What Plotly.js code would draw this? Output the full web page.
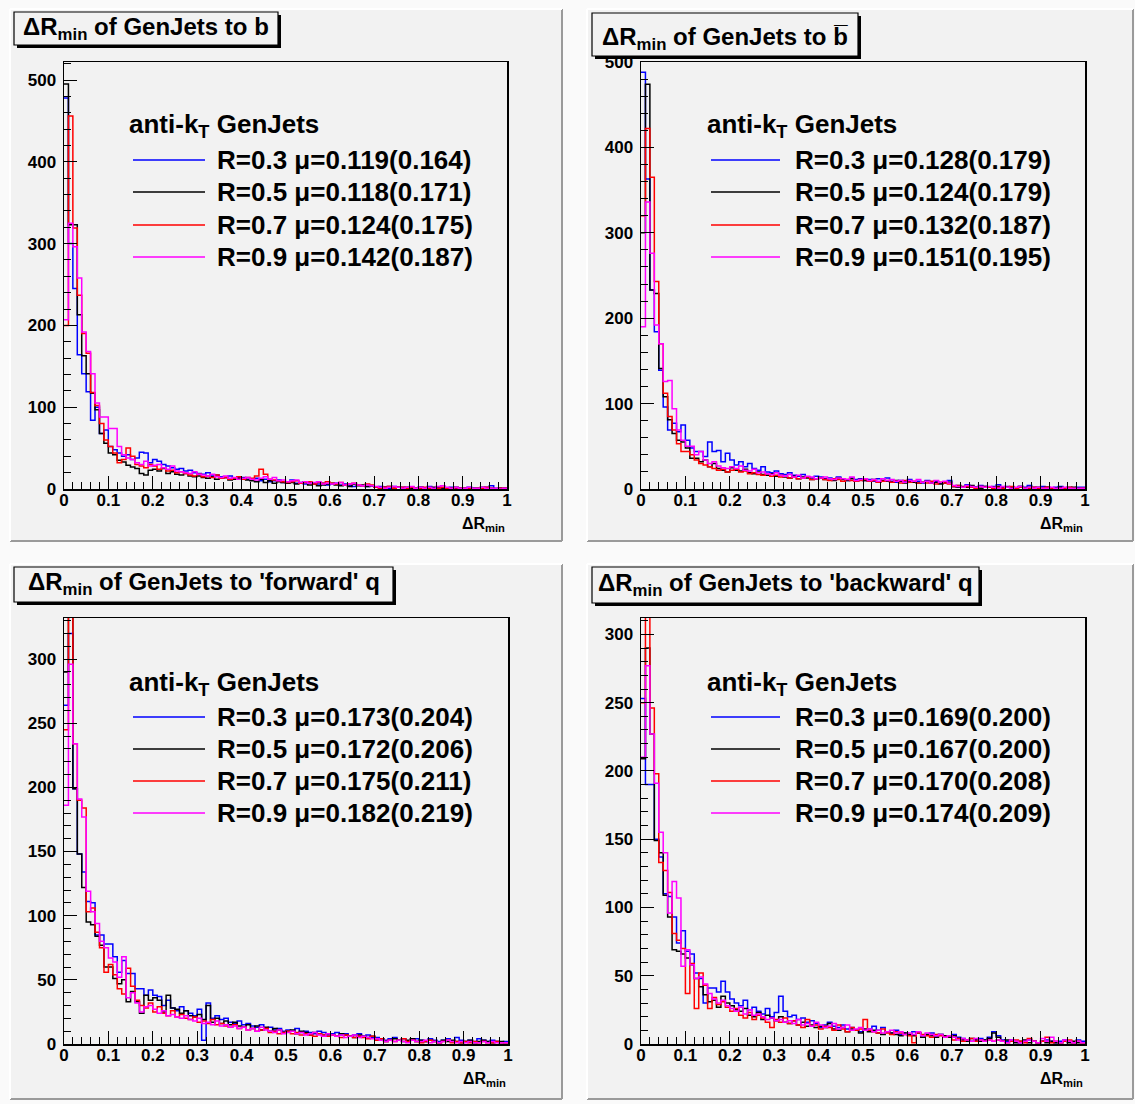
<!DOCTYPE html>
<html>
<head>
<meta charset="utf-8">
<script src="https://cdn.plot.ly/plotly-3.0.1.min.js"></script>
<style>html,body{margin:0;padding:0;background:#fafafa;}#chart{width:1135px;height:1104px;}</style>
</head>
<body>
<div id="chart"></div>
<script>
// ---------- data (100 bins, 0..1, width 0.01) ----------
const binLow = 0, binHigh = 1, nBins = 100;
const seriesNames = ['R=0.3', 'R=0.5', 'R=0.7', 'R=0.9'];
const seriesColors = ['#0000ff', '#000000', '#ff0000', '#ff00ff'];
const panelTitles = ['ΔR<sub>min</sub> of GenJets to b', 'ΔR<sub>min</sub> of GenJets to b\u0305',
  "ΔR<sub>min</sub> of GenJets to 'forward' q", "ΔR<sub>min</sub> of GenJets to 'backward' q"];
const legendHeader = 'anti-k<sub>T</sub> GenJets';
const axisTitle = 'ΔR<sub>min</sub>';
const muB     = ['0.119(0.164)', '0.118(0.171)', '0.124(0.175)', '0.142(0.187)'];
const muBbar  = ['0.128(0.179)', '0.124(0.179)', '0.132(0.187)', '0.151(0.195)'];
const muFwd   = ['0.173(0.204)', '0.172(0.206)', '0.175(0.211)', '0.182(0.219)'];
const muBwd   = ['0.169(0.200)', '0.167(0.200)', '0.170(0.208)', '0.174(0.209)'];
const yMax = [522, 500, 332, 312];
const yMajor = [100, 100, 50, 50];
const yMinor = [20, 20, 10, 10];

// panel b
const b_R03 = [478,300,245,164,141,119,84,100,68,72, 52,48,44,40,42,36,38,45,44,32,
  36,34,30,28,26,24,25,22,23,20, 19,18,20,16,17,15,14,16,13,14, 14,12,11,13,10,12,9,10,11,8,
  8,11,7,8,6,8,7,6,7,5, 6,7,5,6,4,3,5,4,3,4,
  2,3,2,1,3,2,2,1,2,1, 2,1,3,1,2,1,1,2,1,1, 1,2,1,1,0,2,4,1,1,1];
const b_R05 = [495,323,323,213,163,141,117,97,68,56, 44,42,35,33,29,27,25,19,17,23,
  24,22,25,19,21,18,17,19,16,15, 16,14,13,15,12,13,14,11,12,13, 13,11,10,9,12,8,10,7,9,8,
  7,8,6,7,9,5,6,4,5,6, 7,5,4,5,3,6,4,5,3,4,
  2,1,2,3,1,2,1,2,1,1, 2,1,1,2,1,0,1,1,2,1, 1,0,1,1,2,1,1,0,1,1];
const b_R07 = [200,456,319,237,190,166,118,102,80,60, 52,44,32,36,50,40,30,28,26,30,
  28,24,26,22,23,20,21,19,17,16, 18,15,16,14,17,13,14,12,13,15, 12,14,13,16,24,18,12,11,10,9,
  8,9,10,7,8,9,6,8,7,9, 7,6,8,5,6,7,5,4,6,5,
  2,1,2,3,1,2,2,1,2,1, 1,2,1,0,1,2,1,1,0,1, 1,1,0,1,1,2,1,0,1,1];
const b_R09 = [207,325,296,258,192,168,141,105,88,88, 74,74,52,42,38,36,32,30,34,28,
  29,30,26,24,28,22,21,20,19,21, 18,17,16,18,15,14,16,13,14,12, 13,14,12,11,13,15,12,14,10,11,
  9,10,11,8,9,7,8,9,6,7, 6,7,8,5,6,7,5,4,5,4,
  3,2,1,2,3,2,1,2,3,1, 2,1,2,1,3,4,2,1,2,1, 1,2,1,1,2,1,1,1,0,1];
// panel b-bar
const bb_R03 = [488,363,233,184,139,96,69,77,67,75, 57,48,44,44,38,55,44,45,32,42,
  34,28,32,26,30,24,22,26,20,19, 21,18,17,19,16,15,17,14,13,15, 14,12,13,11,14,12,10,13,11,12,
  10,11,9,12,10,13,9,8,10,9, 11,8,9,7,10,8,9,7,8,10,
  3,4,2,5,3,2,4,3,2,3, 5,2,3,2,1,3,2,4,2,1, 3,2,1,2,3,1,2,1,2,2];
const bb_R05 = [300,474,233,229,141,108,81,65,57,55, 48,36,36,32,34,26,30,24,22,20,
  25,22,21,23,19,18,20,17,16,18, 15,16,14,13,15,12,14,13,11,12, 13,11,12,10,13,11,10,12,9,11,
  10,9,11,8,10,9,8,10,9,7, 9,8,7,8,9,7,8,6,7,8,
  3,2,3,2,4,2,1,3,2,2, 3,1,2,2,1,3,1,2,1,2, 1,2,1,1,2,1,1,2,1,1];
const bb_R07 = [320,422,365,243,170,112,85,69,53,44, 44,40,34,30,28,26,24,22,23,20,
  22,23,20,21,18,19,17,16,18,15, 16,14,15,13,14,12,13,14,11,12, 13,11,10,12,11,9,11,10,9,10,
  11,9,10,8,9,10,8,9,7,10, 8,9,7,8,7,9,6,8,7,6,
  3,4,2,3,2,1,3,2,2,1, 2,1,2,3,1,2,1,1,2,1, 1,2,1,0,1,1,2,1,0,1];
const bb_R09 = [190,336,276,192,170,126,127,94,69,57, 50,50,40,44,34,30,32,27,25,24,
  26,24,27,22,21,23,19,20,18,17, 19,16,15,17,14,16,13,15,14,12, 13,14,12,11,13,12,11,14,10,11,
  12,10,11,9,12,10,11,9,10,8, 10,9,11,8,9,7,10,8,9,7,
  4,3,2,4,3,2,3,2,3,2, 1,3,2,1,2,3,1,2,1,2, 1,1,2,1,1,2,1,1,1,1];
// panel forward q
const fq_R03 = [264,320,199,148,134,111,110,85,85,78, 78,68,56,65,55,55,43,43,38,42,
  38,37,30,34,28,26,29,26,24,22, 27,3,32,20,22,19,20,17,16,18, 15,16,14,13,15,12,13,11,12,10,
  11,10,12,9,10,9,8,10,9,7, 8,9,7,8,6,7,8,6,7,5,
  5,4,3,4,5,3,4,2,3,4, 3,2,4,3,2,3,4,2,5,3, 2,3,2,4,3,2,3,2,1,2];
const fq_R05 = [290,345,199,148,122,95,93,84,77,60, 60,51,47,50,33,41,33,24,38,34,
  36,34,25,38,28,27,24,26,22,21, 23,19,30,17,20,16,18,15,17,14, 13,15,12,14,11,13,10,12,11,9,
  10,11,8,10,9,7,9,8,7,8, 7,6,8,7,6,5,7,6,5,6,
  3,4,2,3,4,3,2,3,4,2, 3,2,3,2,1,3,2,3,2,1, 2,3,1,2,3,2,1,2,2,1];
const fq_R07 = [245,345,234,190,184,103,106,87,75,56, 62,54,43,39,59,45,34,30,28,32,
  25,29,24,22,26,21,23,20,19,21, 17,18,16,19,15,16,14,13,15,12, 13,11,12,10,11,12,9,10,8,9,
  10,8,9,7,8,7,6,8,7,6, 7,6,5,7,6,5,6,5,4,6,
  3,4,2,3,2,3,4,2,3,2, 1,2,3,2,1,2,3,1,2,1, 2,1,2,1,2,1,1,2,1,1];
const fq_R09 = [186,296,234,191,177,119,103,94,80,75, 67,64,52,68,36,40,32,25,29,30,
  27,24,26,22,23,21,20,22,19,18, 20,16,17,15,18,14,15,13,14,12, 13,11,12,10,13,11,10,9,11,8,
  9,10,8,9,7,8,9,7,6,8, 7,6,7,5,6,7,5,6,5,4,
  4,3,2,3,2,3,2,1,3,2, 2,3,1,2,1,2,3,2,1,2, 1,2,1,1,2,1,2,1,1,1];
// panel backward q
const bq_R03 = [253,190,190,150,137,110,108,93,74,83, 68,66,52,48,30,41,41,38,46,38,
  33,30,28,32,25,27,24,22,26,20, 23,35,24,20,21,18,19,16,17,15, 12,14,16,13,12,14,11,12,10,9,
  10,11,13,10,12,9,8,10,7,8, 7,9,8,6,7,8,6,7,5,6,
  7,5,4,3,2,3,4,3,5,9, 6,3,2,3,2,1,2,3,2,1, 2,3,2,1,2,3,2,1,3,2];
const bq_R05 = [209,290,227,149,140,109,93,69,68,66, 63,58,48,42,36,31,32,27,35,30,
  28,25,24,26,21,20,23,18,21,19, 17,20,16,15,17,14,16,13,14,12, 13,12,15,11,10,12,9,11,10,8,
  11,9,10,8,7,9,8,7,6,8, 7,6,8,5,7,6,5,7,6,5,
  6,4,3,2,4,3,2,3,4,8, 5,2,3,2,1,2,3,1,2,1, 2,1,2,1,1,2,1,2,1,1];
const bq_R07 = [250,330,246,198,133,127,111,81,76,70, 37,59,26,52,43,26,34,29,31,27,
  24,26,21,19,23,18,21,19,16,12, 18,16,19,15,17,14,12,18,13,14, 11,13,12,10,14,11,9,12,10,11,
  18,10,9,8,11,8,7,9,8,7, 6,1,8,7,6,5,7,6,5,6,
  3,4,2,3,4,2,3,2,3,2, 3,2,1,2,3,2,1,4,2,1, 2,5,1,2,1,2,3,1,2,1];
const bq_R09 = [210,277,227,191,155,140,96,119,107,57, 69,58,48,49,44,37,33,30,32,28,
  26,24,27,22,25,21,22,20,18,19, 17,18,16,17,15,18,14,15,13,16, 14,12,13,15,11,12,14,10,11,12,
  10,11,9,10,8,9,10,8,9,7, 8,7,9,6,8,7,6,7,5,6,
  5,3,4,3,2,4,3,2,3,2, 3,2,1,3,2,1,2,3,2,1, 4,2,5,2,1,3,2,1,2,1];

const xTickVals = [0,0.1,0.2,0.3,0.4,0.5,0.6,0.7,0.8,0.9,1];
const xTickText = ['0','0.1','0.2','0.3','0.4','0.5','0.6','0.7','0.8','0.9','1'];

const panelData = [[b_R03,b_R05,b_R07,b_R09],[bb_R03,bb_R05,bb_R07,bb_R09],
                   [fq_R03,fq_R05,fq_R07,fq_R09],[bq_R03,bq_R05,bq_R07,bq_R09]];
const panelMu = [muB, muBbar, muFwd, muBwd];

// ---------- layout geometry (pixels) ----------
const W = 1135, H = 1104;
const FONT = 'Liberation Sans, Arial, sans-serif';
const frames = [
  {x0:64, x1:507, y0:62, y1:489},
  {x0:641, x1:1085, y0:62, y1:489},
  {x0:64, x1:508, y0:618, y1:1044},
  {x0:641, x1:1085, y0:618, y1:1044}];
const pads = [
  {x0:10, x1:562, y0:9, y1:541},
  {x0:587, x1:1133, y0:9, y1:541},
  {x0:10, x1:562, y0:564, y1:1099},
  {x0:587, x1:1133, y0:564, y1:1099}];
const titleBoxes = [
  {x0:14, x1:278, y0:12, y1:45, ty:28},
  {x0:592, x1:858, y0:13, y1:56, ty:38},
  {x0:14, x1:393, y0:567, y1:602, ty:583},
  {x0:592, x1:979, y0:567, y1:603, ty:584}];
const legendPos = [
  {lx0:133, lx1:205, tx:215, hx:127, hy:126, rows:[160,192,225,257]},
  {lx0:711, lx1:780, tx:793, hx:705, hy:126, rows:[160,192,225,257]},
  {lx0:133, lx1:205, tx:215, hx:127, hy:683, rows:[717,749,781,813]},
  {lx0:711, lx1:780, tx:793, hx:705, hy:683, rows:[717,749,781,813]}];

const px = x => x / W;
const py = y => 1 - y / H;

const edges = [];
for (let i = 0; i <= nBins; i++) edges.push(+(binLow + i * (binHigh - binLow) / nBins).toFixed(4));

const traces = [];
const layout = {
  width: W, height: H,
  margin: {l:0, r:0, t:0, b:0},
  paper_bgcolor: '#fafafa',
  plot_bgcolor: 'rgba(0,0,0,0)',
  showlegend: false,
  shapes: [], annotations: []
};

for (let p = 0; p < 4; p++) {
  const sfx = p === 0 ? '' : String(p + 1);
  const f = frames[p];
  layout['xaxis' + sfx] = {
    domain: [px(f.x0), px(f.x1)], anchor: 'y' + sfx, range: [0, 1],
    showline: true, mirror: true, linecolor: '#000', linewidth: 1.5,
    ticks: 'inside', ticklen: 13, tickwidth: 1, tickcolor: '#000',
    tickmode: 'array', tickvals: xTickVals, ticktext: xTickText,
    minor: {ticks: 'inside', ticklen: 7, tickwidth: 1, tickcolor: '#000', tickmode: 'linear', tick0: 0, dtick: 0.02},
    showgrid: false, zeroline: false, fixedrange: true, ticklabelstandoff: -5,
    tickfont: {family: FONT, size: 17, color: '#000', weight: 'bold'}
  };
  const yt = [];
  for (let v = 0; v <= yMax[p]; v += yMajor[p]) yt.push(v);
  layout['yaxis' + sfx] = {
    domain: [py(f.y1), py(f.y0)], anchor: 'x' + sfx, range: [0, yMax[p]],
    showline: true, mirror: true, linecolor: '#000', linewidth: 1.5,
    ticks: 'inside', ticklen: 13, tickwidth: 1, tickcolor: '#000',
    tickmode: 'array', tickvals: yt, ticktext: yt.map(String),
    minor: {ticks: 'inside', ticklen: 7, tickwidth: 1, tickcolor: '#000', tickmode: 'linear', tick0: 0, dtick: yMinor[p]},
    showgrid: false, zeroline: false, fixedrange: true, ticklabelstandoff: 3,
    tickfont: {family: FONT, size: 17, color: '#000', weight: 'bold'}
  };
  for (let s = 0; s < 4; s++) {
    const vals = panelData[p][s];
    traces.push({
      type: 'scatter', mode: 'lines', xaxis: 'x' + sfx, yaxis: 'y' + sfx,
      x: edges, y: vals.concat([vals[vals.length - 1]]),
      line: {shape: 'hv', color: seriesColors[s], width: 1.5},
      name: seriesNames[s] + ' μ=' + panelMu[p][s], hoverinfo: 'skip'
    });
  }
  // pad background
  const pd = pads[p];
  layout.shapes.push({type:'rect', xref:'paper', yref:'paper', layer:'below',
    x0:px(pd.x0), x1:px(pd.x1), y0:py(pd.y1), y1:py(pd.y0), fillcolor:'#f2f2f2', line:{width:0}});
  layout.shapes.push({type:'line', xref:'paper', yref:'paper', layer:'below',
    x0:px(pd.x0), x1:px(pd.x1), y0:py(pd.y1), y1:py(pd.y1), line:{color:'#9a9a9a', width:2}});
  layout.shapes.push({type:'line', xref:'paper', yref:'paper', layer:'below',
    x0:px(pd.x1), x1:px(pd.x1), y0:py(pd.y1), y1:py(pd.y0), line:{color:'#9a9a9a', width:2}});
  layout.shapes.push({type:'line', xref:'paper', yref:'paper', layer:'below',
    x0:px(pd.x0), x1:px(pd.x1), y0:py(pd.y0), y1:py(pd.y0), line:{color:'#ffffff', width:2}});
  layout.shapes.push({type:'line', xref:'paper', yref:'paper', layer:'below',
    x0:px(pd.x0), x1:px(pd.x0), y0:py(pd.y1), y1:py(pd.y0), line:{color:'#ffffff', width:2}});
  // title box with shadow
  const tb = titleBoxes[p];
  layout.shapes.push({type:'rect', xref:'paper', yref:'paper', layer:'above',
    x0:px(tb.x0 + 3), x1:px(tb.x1 + 3), y0:py(tb.y1 + 3), y1:py(tb.y0 + 3), fillcolor:'#000', line:{width:0}});
  layout.shapes.push({type:'rect', xref:'paper', yref:'paper', layer:'above',
    x0:px(tb.x0), x1:px(tb.x1), y0:py(tb.y1), y1:py(tb.y0), fillcolor:'#f2f2f2', line:{color:'#000', width:1.2}});
  layout.annotations.push({xref:'paper', yref:'paper', x:px((tb.x0 + tb.x1) / 2), y:py(tb.ty),
    xanchor:'center', yanchor:'middle', showarrow:false, text:panelTitles[p],
    font:{family:FONT, size:24, color:'#000', weight:'bold'}});
  // legend
  const lg = legendPos[p];
  layout.annotations.push({xref:'paper', yref:'paper', x:px(lg.hx), y:py(lg.hy),
    xanchor:'left', yanchor:'middle', showarrow:false, text:legendHeader,
    font:{family:FONT, size:26, color:'#000', weight:'bold'}});
  for (let s = 0; s < 4; s++) {
    layout.shapes.push({type:'line', xref:'paper', yref:'paper', layer:'above',
      x0:px(lg.lx0), x1:px(lg.lx1), y0:py(lg.rows[s]), y1:py(lg.rows[s]), line:{color:seriesColors[s], width:1.5}});
    layout.annotations.push({xref:'paper', yref:'paper', x:px(lg.tx), y:py(lg.rows[s]),
      xanchor:'left', yanchor:'middle', showarrow:false, text:seriesNames[s] + ' μ=' + panelMu[p][s],
      font:{family:FONT, size:26, color:'#000', weight:'bold'}});
  }
  // axis title
  layout.annotations.push({xref:'paper', yref:'paper', x:px(f.x1), y:py(f.y1 + 35),
    xanchor:'right', yanchor:'middle', showarrow:false, text:axisTitle,
    font:{family:FONT, size:16, color:'#000', weight:'bold'}});
}

Plotly.newPlot('chart', traces, layout, {staticPlot: true, displayModeBar: false});
</script>
</body>
</html>
